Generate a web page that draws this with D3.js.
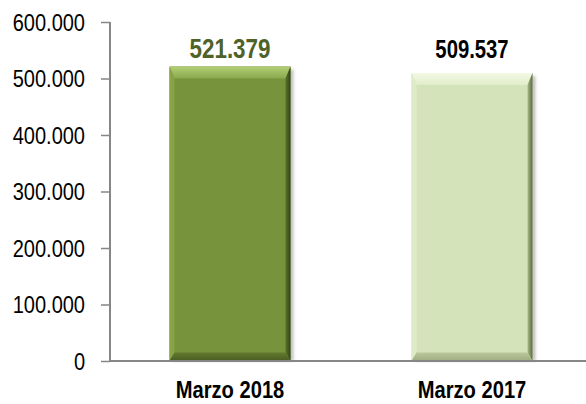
<!DOCTYPE html>
<html>
<head>
<meta charset="utf-8">
<script src="https://cdn.jsdelivr.net/npm/d3@7"></script>
<style>
  body { margin: 0; background: #fff; }
  text { font-family: Arial, "Liberation Sans", sans-serif; }
</style>
</head>
<body>
<div id="chart"></div>
<script>
// data
const categories = ['Marzo 2018', 'Marzo 2017'];
const values = [521379, 509537];
const valueLabels = ['521.379', '509.537'];
const yTicks = [0, 100000, 200000, 300000, 400000, 500000, 600000];
const yTickLabels = ['0', '100.000', '200.000', '300.000', '400.000', '500.000', '600.000'];

const W = 586, H = 404;
const svg = d3.select('#chart').append('svg').attr('width', W).attr('height', H);

const x = d3.scaleBand().domain(categories).range([109, 593]).paddingInner(0.5).paddingOuter(0.25);
const y = d3.scaleLinear().domain([0, 600000]).range([361, 22]);

// bar colours: body, top bevel, left, right, bottom
const looks = [
  { body: '#77933c', top: ['#b4d077', '#8aa84c'], left: '#86a346', right: ['#5a7229', '#34431a'], bottom: ['#62792f', '#4a5c22'], label: '#4f6228', dy: 8, size: 28, sx: 0.8 },
  { body: '#d5e3bb', top: ['#f3f9e4', '#e1edc9'], left: '#dfebc8', right: ['#a9b88b', '#5d6a40'], bottom: ['#b9c79c', '#9eac80'], label: '#000', dy: 15, size: 26, sx: 0.78 }
];

const defs = svg.append('defs');
defs.append('filter').attr('id', 'sh').append('feGaussianBlur').attr('stdDeviation', 1.5);
looks.forEach((l, i) => {
  const g1 = defs.append('linearGradient').attr('id', 'top' + i).attr('x1', 0).attr('y1', 0).attr('x2', 0).attr('y2', 1);
  g1.append('stop').attr('offset', 0).attr('stop-color', l.top[0]);
  g1.append('stop').attr('offset', 1).attr('stop-color', l.top[1]);
  const g2 = defs.append('linearGradient').attr('id', 'right' + i).attr('x1', 0).attr('y1', 0).attr('x2', 1).attr('y2', 0);
  g2.append('stop').attr('offset', 0).attr('stop-color', l.right[0]);
  g2.append('stop').attr('offset', 1).attr('stop-color', l.right[1]);
  const g3 = defs.append('linearGradient').attr('id', 'bot' + i).attr('x1', 0).attr('y1', 0).attr('x2', 0).attr('y2', 1);
  g3.append('stop').attr('offset', 0).attr('stop-color', l.bottom[0]);
  g3.append('stop').attr('offset', 1).attr('stop-color', l.bottom[1]);
});

// stretched text helper (the original font is narrow and tall)
function label(sel, tx, ty, s, txt, size, weight, fill) {
  sel.append('text')
    .attr('transform', `translate(${tx},${ty}) scale(${s},1)`)
    .attr('text-anchor', 'middle')
    .style('font-size', size + 'px').style('font-weight', weight).style('fill', fill)
    .text(txt);
}

const bars = svg.append('g');
values.forEach((v, i) => {
  const l = looks[i];
  const x0 = x(categories[i]), w = x.bandwidth();
  const y0 = y(v), y1 = y(0), b = 12, bs = 5;
  const g = bars.append('g');
  g.append('rect').attr('x', x0 + 3).attr('y', y0 + 3).attr('width', w).attr('height', y1 - y0 - 3)
    .attr('fill', '#999').attr('opacity', 0.6).attr('filter', 'url(#sh)');
  g.append('rect').attr('x', x0).attr('y', y0).attr('width', w).attr('height', y1 - y0).attr('fill', l.body);
  // bevels
  g.append('polygon').attr('points', [[x0, y0], [x0 + w, y0], [x0 + w - bs, y0 + b], [x0 + bs, y0 + b]].join(' ')).attr('fill', 'url(#top' + i + ')');
  g.append('polygon').attr('points', [[x0, y0], [x0 + bs, y0 + b], [x0 + bs, y1 - b * 0.7], [x0, y1]].join(' ')).attr('fill', l.left);
  g.append('polygon').attr('points', [[x0 + w, y0], [x0 + w, y1], [x0 + w - bs, y1 - b * 0.7], [x0 + w - bs, y0 + b]].join(' ')).attr('fill', 'url(#right' + i + ')');
  g.append('polygon').attr('points', [[x0, y1], [x0 + w, y1], [x0 + w - bs, y1 - b * 0.7], [x0 + bs, y1 - b * 0.7]].join(' ')).attr('fill', 'url(#bot' + i + ')');

  label(svg, x0 + w / 2, y0 - l.dy, l.sx, valueLabels[i], l.size, 'bold', l.label);
  label(svg, x0 + w / 2, 398, 0.84, categories[i], 24, 'bold', '#000');
});

// y axis
const yAxis = svg.append('g').attr('transform', 'translate(110,0)')
  .call(d3.axisLeft(y).tickValues(yTicks).tickSize(9).tickPadding(0).tickFormat((d, i) => yTickLabels[i]));
yAxis.select('.domain').attr('stroke', '#868686').attr('stroke-width', 2).attr('d', 'M0,22V361');
yAxis.selectAll('.tick line').attr('stroke', '#868686').attr('stroke-width', 1.5);
yAxis.selectAll('.tick text')
  .attr('x', null).attr('dy', null)
  .attr('transform', 'translate(-25,8) scale(0.87,1)')
  .style('font-size', '23px').style('fill', '#000').style('font-family', 'Arial, "Liberation Sans", sans-serif');

// x axis baseline
svg.append('g').attr('transform', 'translate(0,361)')
  .call(d3.axisBottom(x).tickSize(0).tickFormat(''))
  .select('.domain').attr('stroke', '#868686').attr('stroke-width', 2).attr('d', 'M110,0H586');
</script>
</body>
</html>
